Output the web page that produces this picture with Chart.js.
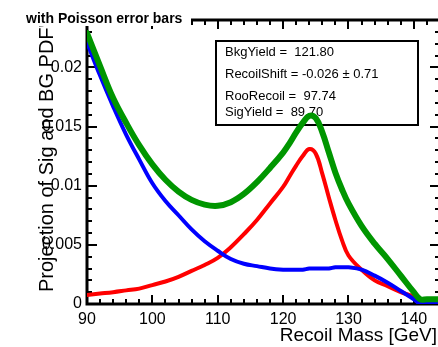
<!DOCTYPE html>
<html>
<head>
<meta charset="utf-8">
<script src="https://cdn.jsdelivr.net/npm/chart.js@4.4.0/dist/chart.umd.min.js"></script>
<style>
  body { margin:0; background:#fff; overflow:hidden; }
  #wrap { width:444px; height:347px; }
</style>
</head>
<body>
<div id="wrap"><canvas id="myChart" width="444" height="347"></canvas></div>
<script>
// recoil mass points (GeV)
var massPts = [90,92,94,96,98,100,102,104,106,108,110,112,114,116,118,120,121,122,123,124,125,126,127,128,129,130,132,134,136,138,140,141,142,144];
// total pdf (green)
var totalPdf = [0.0229,0.0201,0.0174,0.0153,0.0134,0.0118,0.0105,0.0095,0.0088,0.0084,0.0083,0.0086,0.0093,0.0103,0.0115,0.0128,0.0136,0.0145,0.0153,0.0159,0.0157,0.0145,0.0128,0.0111,0.0097,0.0085,0.0066,0.0051,0.0038,0.0024,0.0010,0.0004,0.0004,0.0004];
// background pdf (blue)
var bkgPdf = [0.0221,0.0193,0.0167,0.0143,0.0122,0.0102,0.0087,0.0075,0.0063,0.0053,0.0045,0.0038,0.0034,0.0032,0.0030,0.0029,0.0029,0.0029,0.0029,0.0030,0.0030,0.0030,0.0030,0.0031,0.0031,0.0031,0.0029,0.0024,0.0018,0.0011,0.0004,0,0,0];
// signal pdf (red)
var sigPdf = [0.00076,0.00088,0.0010,0.00115,0.0013,0.0016,0.0019,0.0023,0.0028,0.0033,0.0039,0.0048,0.0059,0.0071,0.0085,0.0099,0.0108,0.0117,0.0125,0.0131,0.0127,0.0110,0.0090,0.0071,0.0054,0.0041,0.0029,0.0020,0.0015,0.0010,0.0006,0,0,0];

var xTicks = [90,100,110,120,130,140];
var yTicks = [0,0.005,0.01,0.015,0.02];
var yTickLabels = ['0','0.005','0.01','0.015','0.02'];

var paramLines = ['BkgYield =  121.80','RecoilShift = -0.026 \u00b1 0.71','RooRecoil =  97.74','SigYield =  89.70'];
var titleText = 'with Poisson error bars';
var xTitle = 'Recoil Mass [GeV]';
var yTitle = "Projection of Sig and BG PDF's";

var FONT = '"Liberation Sans", Arial, Helvetica, sans-serif';

function pts(arr){
  return massPts.map(function(x,i){ return {x:x, y:arr[i]}; });
}

// frame with inward ticks + param box, under the curves
var frameBox = {
  id:'frameBox',
  beforeDatasetsDraw: function(chart){
    var c = chart.ctx, a = chart.chartArea;
    var xs = chart.scales.x, ys = chart.scales.y;
    c.save();
    c.strokeStyle = '#000';
    c.lineWidth = 2;
    // x ticks, major 10 minor 2
    for (var v = 90; v <= 144; v += 2){
      var px = Math.round(xs.getPixelForValue(v));
      var len = (v % 10 === 0) ? 9 : 5;
      c.beginPath();
      c.moveTo(px, a.bottom); c.lineTo(px, a.bottom - len);
      c.moveTo(px, a.top); c.lineTo(px, a.top + len);
      c.stroke();
    }
    // y ticks, major 0.005 minor 0.001
    for (var k = 0; k <= 24; k++){
      var py = Math.round(ys.getPixelForValue(k*0.001));
      var l2 = (k % 5 === 0) ? 10 : 5;
      c.beginPath();
      c.moveTo(a.left, py); c.lineTo(a.left + l2, py);
      c.moveTo(a.right, py); c.lineTo(a.right - l2, py);
      c.stroke();
    }
    c.lineWidth = 3;
    c.strokeRect(a.left, a.top, a.right - a.left, a.bottom - a.top);

    // parameter box
    c.fillStyle = '#fff';
    c.fillRect(216, 41, 202, 84);
    c.lineWidth = 2;
    c.strokeRect(216, 41, 202, 84);
    c.fillStyle = '#000';
    c.font = '13px ' + FONT;
    c.textAlign = 'left';
    c.textBaseline = 'alphabetic';
    var base = [56, 78, 100, 116];
    paramLines.forEach(function(t,i){ c.fillText(t, 225, base[i]); });
    c.restore();
  },
  afterDraw: function(chart){
    var c = chart.ctx;
    c.save();
    // axis titles
    c.fillStyle = '#000';
    c.font = '19px ' + FONT;
    c.textAlign = 'right';
    c.textBaseline = 'alphabetic';
    c.fillText(xTitle, 437, 341);
    c.save();
    c.translate(53, 292);
    c.rotate(-Math.PI/2);
    c.font = '20px ' + FONT;
    c.textAlign = 'left';
    c.fillText(yTitle, 0, 0);
    c.restore();
    // title box
    c.fillStyle = '#fff';
    c.fillRect(20, 0, 171, 26);
    c.fillStyle = '#000';
    c.font = 'bold 14px ' + FONT;
    c.textAlign = 'left';
    c.fillText(titleText, 26, 23);
    c.restore();
  }
};

var lineStyle = {showLine:true, pointRadius:0, tension:0.4, borderJoinStyle:'round', borderCapStyle:'round'};

var config = {
  type:'scatter',
  data:{
    datasets:[
      Object.assign({label:'total', data:pts(totalPdf), borderColor:'rgb(0,150,0)', borderWidth:6}, lineStyle),
      Object.assign({label:'bkg', data:pts(bkgPdf), borderColor:'#0000ff', borderWidth:4}, lineStyle),
      Object.assign({label:'sig', data:pts(sigPdf), borderColor:'#ff0000', borderWidth:4}, lineStyle)
    ]
  },
  options:{
    responsive:false,
    animation:false,
    devicePixelRatio:1,
    layout:{padding:{top:20, right:4, left:0, bottom:0}},
    plugins:{legend:{display:false}, tooltip:{enabled:false}},
    scales:{
      x:{
        type:'linear', min:90, max:144,
        grid:{display:false, drawTicks:false}, border:{display:false},
        afterFit:function(s){ s.height = 43; },
        afterBuildTicks:function(s){ s.ticks = xTicks.map(function(v){ return {value:v}; }); },
        ticks:{color:'#000', padding:6, maxRotation:0, font:{family:FONT, size:16}}
      },
      y:{
        type:'linear', min:0, max:0.024,
        grid:{display:false, drawTicks:false}, border:{display:false},
        afterFit:function(s){ s.width = 87; },
        afterBuildTicks:function(s){ s.ticks = yTicks.map(function(v){ return {value:v}; }); },
        ticks:{color:'#000', padding:5, font:{family:FONT, size:16},
          callback:function(v){ var i = yTicks.indexOf(v); return i >= 0 ? yTickLabels[i] : ''; }}
      }
    }
  },
  plugins:[frameBox]
};

var myChart = new Chart(document.getElementById('myChart'), config);
</script>
</body>
</html>
